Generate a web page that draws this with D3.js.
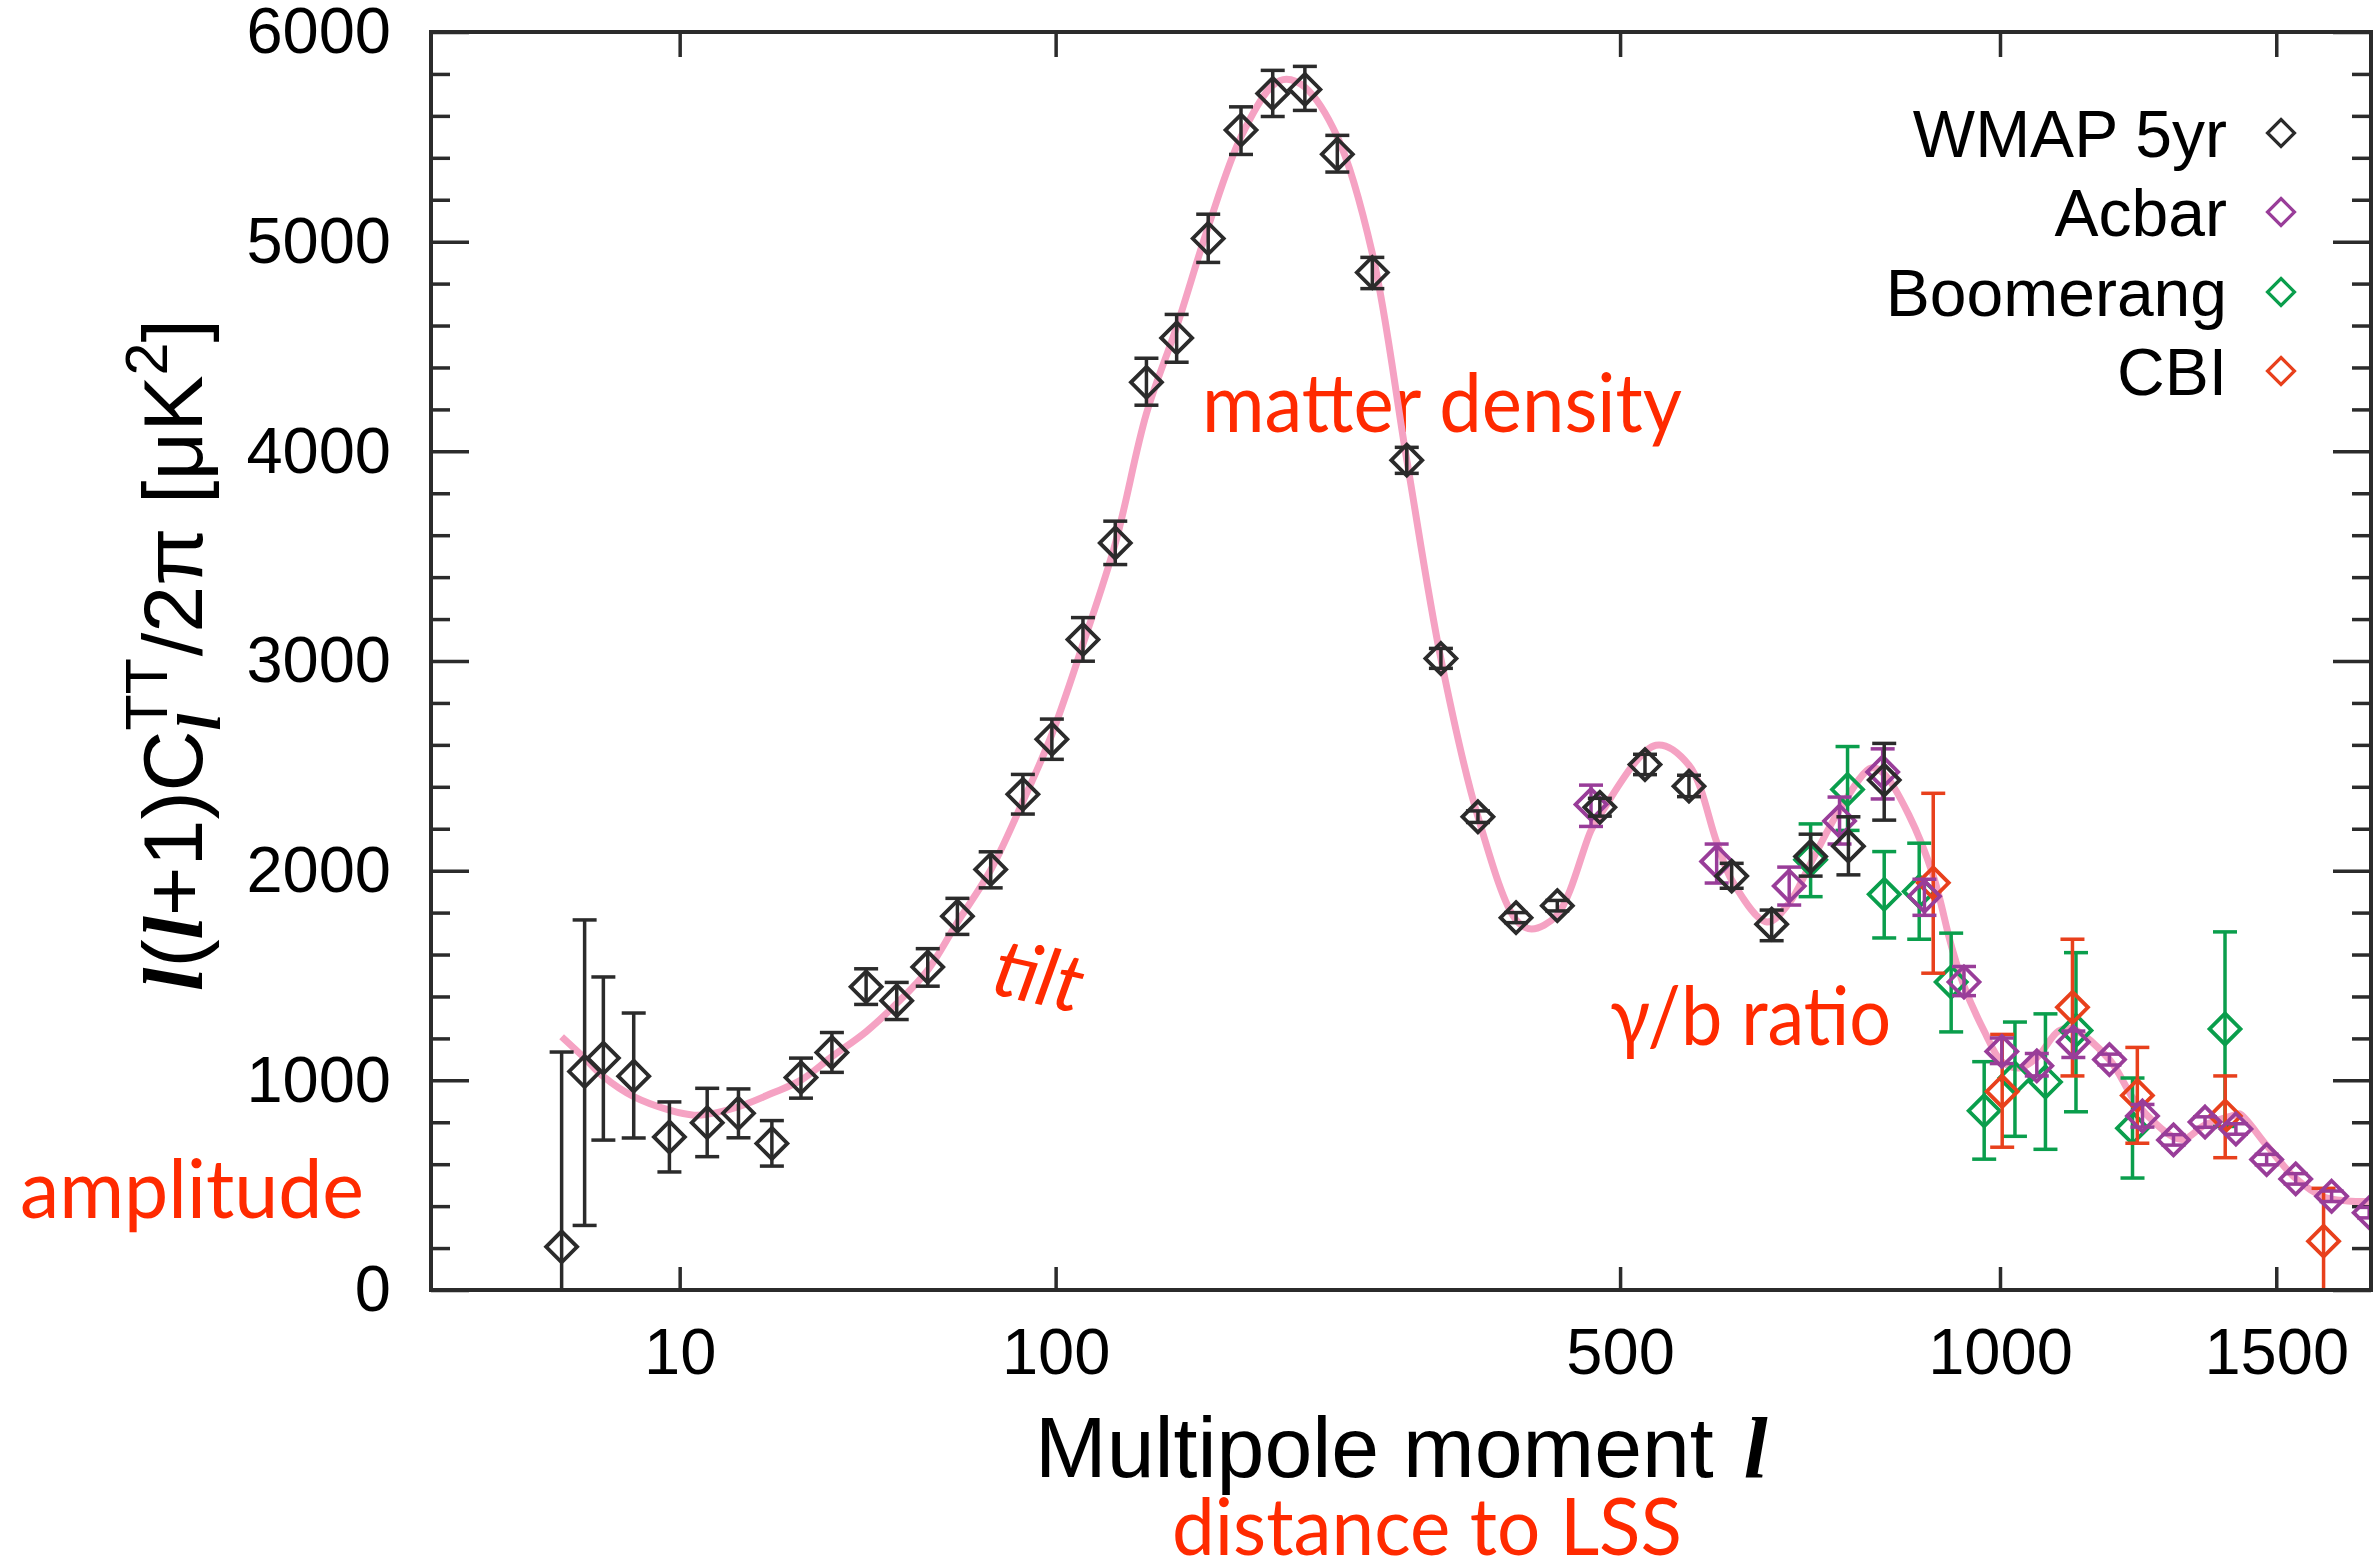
<!DOCTYPE html>
<html><head><meta charset="utf-8">
<script src="https://cdn.jsdelivr.net/npm/d3@7"></script>
<style>body{margin:0;background:#fff} svg{display:block}</style>
</head><body>
<svg id="c" width="2376" height="1564"></svg>
<script>
// ---------------- DATA ----------------
// WMAP 5yr (binned): multipole, value, upper, lower
const wmapL  = [2, 3, 4, 6, 9, 13, 17, 22, 27, 33, 40.5, 48, 56.4, 65.2, 76, 87.4, 98.5, 111.3, 125.6, 140.4, 155.7, 172.7, 191.5, 210.8, 231.5, 253.6, 278.8, 305, 332.4, 363.7, 397.7, 436.6, 479, 526.6, 575.6, 625.7, 674.9, 725, 775.7, 825.6];
const wmapV  = [206, 1042, 1106, 1020, 730, 798, 843, 699, 1013, 1133, 1446, 1380, 1540, 1783, 2006, 2364, 2627, 3102, 3563, 4329, 4541, 5015, 5532, 5707, 5726, 5417, 4853, 3958, 3012, 2257, 1776, 1833, 2302, 2506, 2403, 1974, 1745, 2068, 2117, 2432];
const wmapHi = [1135, 1765, 1493, 1321, 897, 962, 959, 808, 1106, 1228, 1532, 1467, 1628, 1868, 2090, 2459, 2723, 3207, 3667, 4444, 4653, 5131, 5643, 5817, 5836, 5507, 4925, 4019, 3060, 2285, 1800, 1858, 2345, 2555, 2455, 2035, 1812, 2174, 2257, 2607];
const wmapLo = [-600, 308, 715, 725, 563, 636, 726, 591, 915, 1038, 1362, 1290, 1449, 1696, 1918, 2270, 2531, 2999, 3460, 4220, 4425, 4901, 5416, 5597, 5626, 5332, 4776, 3895, 2965, 2230, 1752, 1808, 2260, 2458, 2353, 1916, 1666, 1974, 1980, 2241];

// Acbar
const acbarL  = [470, 607.8, 697.2, 763.6, 823.4, 883.9, 943.6, 1002.9, 1059.7, 1121, 1183.6, 1242.7, 1299.8, 1359.4, 1419.3, 1480.5, 1539.8, 1615, 1696];
const acbarV  = [2316, 2044, 1927, 2237, 2471, 1878, 1469, 1138, 1069, 1183, 1099, 830, 716, 801, 768, 622, 530, 447, 369];
const acbarHi = [2408, 2127, 2017, 2351, 2581, 1959, 1543, 1202, 1128, 1235, 1125, 885, 741, 826, 793, 647, 555, 472, 394];
const acbarLo = [2211, 1941, 1836, 2127, 2342, 1787, 1404, 1080, 1021, 1109, 1073, 777, 691, 776, 743, 597, 505, 422, 344];

// Boomerang
const boomL  = [725, 774.5, 825.6, 876.2, 924, 975, 1024, 1074, 1125.5, 1224.7, 1398];
const boomV  = [2052, 2387, 1887, 1901, 1469, 855, 1011, 992, 1238, 772, 1245];
const boomHi = [2223, 2592, 2091, 2131, 1702, 1089, 1278, 1317, 1609, 1011, 1708];
const boomLo = [1876, 2192, 1679, 1673, 1231, 624, 733, 671, 850, 534, 780];

// CBI
const cbiL  = [897, 1003.5, 1119.5, 1233.4, 1398.4, 1598];
const cbiV  = [1942, 947, 1348, 928, 830, 233];
const cbiHi = [2369, 1219, 1673, 1157, 1021, 485];
const cbiLo = [1511, 681, 1021, 700, 631, -300];

// Best-fit model curve
const modelL = [2, 3, 4, 6, 9, 11.5, 13, 17, 22, 27, 33, 40.5, 48, 56.4, 65, 76, 87.4, 98.5, 111.3, 125.6, 140.4, 155.7, 172.7, 191.5, 210.8, 219.5, 231.5, 253.6, 278.8, 305, 332.4, 363.7, 397.7, 412, 436.6, 470, 479, 538.6, 575.6, 607.8, 625.7, 668.8, 697, 725, 763.6, 807.6, 825.6, 861, 897, 924, 943.6, 975, 1003, 1031, 1059.7, 1096, 1119.5, 1183.6, 1233.4, 1299.8, 1320, 1359.4, 1419, 1427, 1480.5, 1539.8, 1598, 1649, 1700];
const modelV = [1208, 1106, 1018, 922, 858, 834, 838, 874, 938, 1001, 1113, 1232, 1367, 1526, 1749, 2003, 2330, 2650, 3080, 3560, 4180, 4594, 5071, 5500, 5746, 5775, 5737, 5500, 4944, 3960, 3010, 2257, 1765, 1722, 1790, 2192, 2265, 2598, 2503, 2137, 1955, 1755, 1845, 2035, 2290, 2490, 2461, 2266, 1976, 1645, 1450, 1235, 1089, 1059, 1108, 1235, 1245, 1099, 885, 729, 719, 787, 836, 840, 690, 532, 444, 425, 422];

const xTicks = [10, 100, 500, 1000, 1500];
const yTicks = [0, 1000, 2000, 3000, 4000, 5000, 6000];
const yMinor = [200, 400, 600, 800, 1200, 1400, 1600, 1800, 2200, 2400, 2600, 2800, 3200, 3400, 3600, 3800, 4200, 4400, 4600, 4800, 5200, 5400, 5600, 5800];
const seriesNames = ["WMAP 5yr", "Acbar", "Boomerang", "CBI"];
const seriesColors = ["#2b2b2b", "#993d99", "#0a9e4c", "#e8401c"];

// ---------------- CHART ----------------
const svg = d3.select("#c");
const L = 431, R = 2371, T = 32, B = 1290;
const x = d3.scalePow().exponent(0.4).domain([0, 1700]).range([L, R]);
const y = d3.scaleLinear().domain([0, 6000]).range([B, T]);
const axisColor = "#2b2b2b";
const sans = "'Liberation Sans', Arial, Helvetica, sans-serif";
const serif = "'Liberation Serif', 'Times New Roman', serif";
const annoFont = "Lato, 'Open Sans', sans-serif";
const red = "#ff2a00";

svg.append("defs").append("clipPath").attr("id", "plotclip")
  .append("rect").attr("x", L).attr("y", T).attr("width", R - L).attr("height", B - T);

// annotations (behind curve)
function anno(txt, px, py, size, len, rot, italic) {
  const t = svg.append("text").attr("x", px).attr("y", py)
    .attr("fill", red).style("font-family", annoFont).style("font-size", size + "px")
    .attr("textLength", len).attr("lengthAdjust", "spacingAndGlyphs")
    .text(txt);
  if (italic) t.style("font-style", "italic");
  if (rot) t.attr("transform", `rotate(${rot},${px},${py})`);
  return t;
}
anno("amplitude", 20, 1218, 82, 344);
anno("tilt", 989, 993, 80, 90, 13, true);
anno("matter density", 1202, 432, 82, 480);
anno("\u03b3/b ratio", 1610, 1045, 82, 281);
anno("distance to LSS", 1172, 1555, 80, 510);

// axes
function styleAxis(g) {
  g.select(".domain").remove();
  g.selectAll(".tick line").attr("stroke", axisColor).attr("stroke-width", 3.5);
  g.selectAll(".tick text").attr("fill", "#000").style("font-family", sans).style("font-size", "65px");
}
svg.append("g").attr("transform", `translate(0,${B})`)
  .call(d3.axisBottom(x).tickValues(xTicks).tickSize(-23).tickPadding(38).tickFormat(d3.format("d")))
  .call(styleAxis);
svg.append("g").attr("transform", `translate(0,${T})`)
  .call(d3.axisTop(x).tickValues(xTicks).tickSize(-25).tickFormat(""))
  .call(styleAxis);
svg.append("g").attr("transform", `translate(${L},0)`)
  .call(d3.axisLeft(y).tickValues(yTicks).tickSize(-38).tickPadding(40).tickFormat(d3.format("d")))
  .call(styleAxis);
svg.append("g").attr("transform", `translate(${L},0)`)
  .call(d3.axisLeft(y).tickValues(yMinor).tickSize(-19).tickFormat(""))
  .call(styleAxis);
svg.append("g").attr("transform", `translate(${R},0)`)
  .call(d3.axisRight(y).tickValues(yTicks).tickSize(-38).tickFormat(""))
  .call(styleAxis);
svg.append("g").attr("transform", `translate(${R},0)`)
  .call(d3.axisRight(y).tickValues(yMinor).tickSize(-19).tickFormat(""))
  .call(styleAxis);

// model curve
const line = d3.line().x(d => x(d[0])).y(d => y(d[1])).curve(d3.curveCatmullRom.alpha(0.5));
svg.append("path").attr("clip-path", "url(#plotclip)")
  .datum(modelL.map((l, i) => [l, modelV[i]]))
  .attr("d", line).attr("fill", "none").attr("stroke", "#f5a2c3").attr("stroke-width", 7);

// data
function drawSeries(Ls, Vs, His, Los, color) {
  const g = svg.append("g").attr("clip-path", "url(#plotclip)");
  const data = Ls.map((l, i) => ({ l, v: Vs[i], hi: His[i], lo: Los[i] }));
  const cap = 12;
  data.forEach(d => {
    const cx = x(d.l);
    g.append("line").attr("x1", cx).attr("x2", cx).attr("y1", y(d.hi)).attr("y2", y(d.lo))
      .attr("stroke", color).attr("stroke-width", 3.5);
    [d.hi, d.lo].forEach(v => {
      g.append("line").attr("x1", cx - cap).attr("x2", cx + cap).attr("y1", y(v)).attr("y2", y(v))
        .attr("stroke", color).attr("stroke-width", 3.5);
    });
    g.append("path").attr("d", "M0,-15.5L15.5,0L0,15.5L-15.5,0Z")
      .attr("transform", `translate(${cx},${y(d.v)})`)
      .attr("fill", "none").attr("stroke", color).attr("stroke-width", 3.8).attr("stroke-linejoin", "miter");
  });
}
drawSeries(boomL, boomV, boomHi, boomLo, seriesColors[2]);
drawSeries(cbiL, cbiV, cbiHi, cbiLo, seriesColors[3]);
drawSeries(acbarL, acbarV, acbarHi, acbarLo, seriesColors[1]);
drawSeries(wmapL, wmapV, wmapHi, wmapLo, seriesColors[0]);

// frame
svg.append("rect").attr("x", L).attr("y", T).attr("width", R - L).attr("height", B - T)
  .attr("fill", "none").attr("stroke", axisColor).attr("stroke-width", 4);

// legend
const legY = [133, 212, 292, 371];
seriesNames.forEach((n, i) => {
  svg.append("text").attr("x", 2227).attr("y", legY[i]).attr("dy", "0.36em")
    .attr("text-anchor", "end").style("font-family", sans).style("font-size", "66px").text(n);
  svg.append("path").attr("d", "M0,-13.5L13.5,0L0,13.5L-13.5,0Z")
    .attr("transform", `translate(2281,${legY[i]})`)
    .attr("fill", "none").attr("stroke", seriesColors[i]).attr("stroke-width", 3.2);
});

// x axis title
const xt = svg.append("text").attr("x", 1035).attr("y", 1477)
  .style("font-family", sans).style("font-size", "86px").attr("fill", "#000");
xt.append("tspan").text("Multipole moment");
xt.append("tspan").attr("dx", 30).style("font-family", serif).style("font-style", "italic")
  .style("font-weight", "bold").text("l");

// y axis title (rotated)
const F = 84;
const yg = svg.append("g");
const yin = yg.append("g");
let pos = 0;
function piece(txt, opts) {
  const t = yin.append("text").attr("x", pos).attr("y", opts.dy || 0)
    .style("font-family", opts.serif ? serif : sans)
    .style("font-size", (opts.size || F) + "px").attr("fill", "#000").text(txt);
  if (opts.serif) t.style("font-style", "italic").style("font-weight", "bold");
  return t.node().getComputedTextLength();
}
pos += piece("l", { serif: true });
pos += piece("(", {});
pos += piece("l", { serif: true });
pos += piece("+1)C", {});
const wSub = piece("l", { serif: true, size: F * 0.72, dy: F * 0.22 });
const wSup = piece("TT", { size: F * 0.7, dy: -F * 0.42 });
pos += Math.max(wSub, wSup) + 2;
pos += piece("/2\u03c0 [\u03bcK", {});
pos += piece("2", { size: F * 0.7, dy: -F * 0.42 });
pos += piece("]", {});
const targetLen = 672;
const sx = targetLen / pos;
yin.attr("transform", `scale(${sx},1)`);
yg.attr("transform", `translate(202,${655 + targetLen / 2}) rotate(-90)`);
</script>
</body></html>
